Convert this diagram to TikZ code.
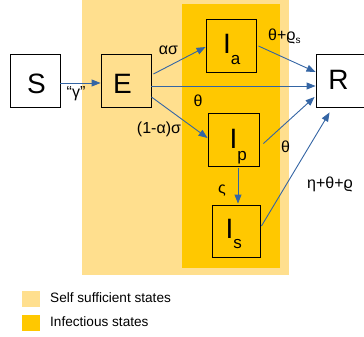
\documentclass[tikz,border=0pt]{standalone}
\usepackage{fontspec}
\setmainfont{Liberation Sans}
\usetikzlibrary{arrows.meta,calc}
\definecolor{selfsuff}{RGB}{255,223,142}
\definecolor{infect}{RGB}{255,200,0}
\definecolor{flow}{RGB}{52,101,164}
\begin{document}
\begin{tikzpicture}[x=1pt,y=-1pt,
  state/.style={draw=black,line width=0.9pt,minimum width=50pt,minimum height=53pt,inner sep=0pt},
  letter/.style={inner sep=0pt,font=\fontsize{28}{28}\selectfont},
  rate/.style={inner sep=0pt,font=\fontsize{16}{16}\selectfont},
  legend/.style={inner sep=0pt,anchor=west,font=\fontsize{13.6}{14}\selectfont},
  flowarrow/.style={draw=flow,line width=0.9pt,-{Triangle[length=9pt,width=7pt]}}
]
\useasboundingbox (0,0) rectangle (364,337);

% compartment groups
\fill[selfsuff] (82,-2) rectangle (289,275);
\fill[infect] (182,4) rectangle (280,268);

% states
\node[state,fill=white] (S) at (35,80.5) {};
\node[state] (E) at (126,80.5) {};
\node[state] (Ia) at (231,45.5) {};
\node[state,minimum width=51pt] (Ip) at (233.5,139.5) {};
\node[state,minimum width=48pt,minimum height=52pt] (Is) at (236,231) {};
\node[state,fill=white] (R) at (341,80.5) {};

% state names
\node[letter] (Stxt) at (36.5,83.5) {S};
\node[letter] (Etxt) at (122.5,83.5) {E};
\node[letter] (Rtxt) at (338.5,79.5) {R};
\node[letter,anchor=base west] (Iatxt) at (223,54) {I\smash{\raisebox{-11pt}{\fontsize{17}{17}\selectfont a}}};
\node[letter,anchor=base west] (Iptxt) at (229.5,148) {I\smash{\raisebox{-12pt}{\fontsize{17}{17}\selectfont p}}};
\node[letter,anchor=base west] (Istxt) at (225.5,238) {I\smash{\raisebox{-10pt}{\fontsize{17}{17}\selectfont s}}};

% transitions
\draw[flowarrow] ($(S.east)+(0,2.5)$) -- ($(E.west)+(0,2.5)$);
\draw[flowarrow] ($(E.east)+(2,-6.5)$) -- ($(Ia.west)+(0,1.5)$);
\draw[flowarrow] ($(E.east)+(0,5.5)$) -- ($(R.west)+(0,5.5)$);
\draw[flowarrow] ($(E.east)+(0,16.5)$) -- ($(Ip.west)+(0,-1.5)$);
\draw[flowarrow] ($(Ia.east)+(2,0.5)$) -- ($(R.west)+(0,-8.5)$);
\draw[flowarrow] ($(Ip.east)+(4,4)$) -- ($(R.west)+(-1,16.5)$);
\draw[flowarrow] ($(Ip.south)+(4.5,2)$) -- ($(Is.north)+(2,-1)$);
\draw[flowarrow] ($(Is.east)+(1,-5)$) -- ($(R.south west)+(14,5)$);

% rates
\node[rate,anchor=base] (gam) at (76,97) {“γ”};
\node[rate,anchor=base] (asig) at (168.5,55) {ασ};
\node[rate,anchor=base] (th1) at (198,106.5) {θ};
\node[rate,anchor=base] (bsig) at (159,133) {(1-α)σ};
\node[rate,anchor=base west] (thrs) at (268,41) {θ+ϱ\raisebox{-3pt}{\fontsize{10}{10}\selectfont s}};
\node[rate,anchor=base] (th2) at (285.5,152) {θ};
\node[rate,anchor=base] (fsig) at (222,193) {ς};
\node[rate,anchor=base west] (etr) at (307,188) {η+θ+ϱ};

% legend
\fill[selfsuff] (22,291) rectangle (40,307);
\fill[infect] (22,315) rectangle (40,331);
\node[legend] (k1) at (50,298) {Self sufficient states};
\node[legend] (k2) at (50,322) {Infectious states};
\end{tikzpicture}
\end{document}
